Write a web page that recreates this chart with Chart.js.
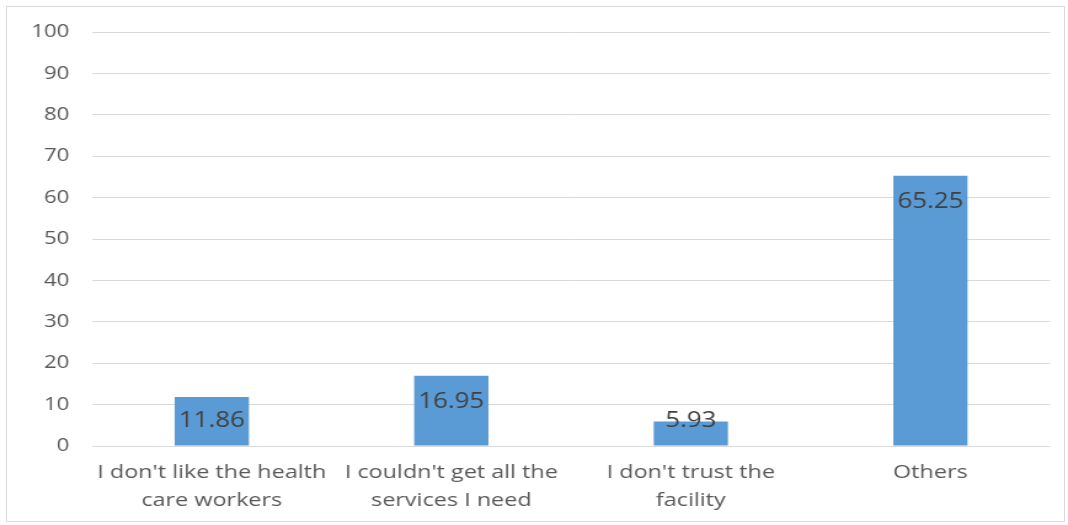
<!DOCTYPE html>
<html>
<head>
<meta charset="utf-8">
<script src="https://cdn.jsdelivr.net/npm/chart.js@4"></script>
<style>
  html, body { margin: 0; padding: 0; background: #fff; overflow: hidden; }
  #wrap { position: relative; width: 1068px; height: 525px; }
  /* the source picture is stretched sideways, so the canvas is too */
  #stretch { position: absolute; left: 0; top: 0; width: 868px; height: 525px; transform: scaleX(1.2304); transform-origin: 0 0; }
  #frame { position: absolute; left: 6px; top: 6px; width: 1059px; height: 516px; border: 1px solid #d9d9d9; box-sizing: border-box; pointer-events: none; }
</style>
</head>
<body>
<div id="wrap">
  <div id="stretch"><canvas id="chart0" width="868" height="525"></canvas></div>
  <div id="frame"></div>
</div>
<script>
const categories = [
  ["I don't like the health", "care workers"],
  ["I couldn't get all the", "services I need"],
  ["I don't trust the", "facility"],
  "Others"
];
const values = [11.86, 16.95, 5.93, 65.25];
const y_ticks = [0, 10, 20, 30, 40, 50, 60, 70, 80, 90, 100];

const font_family = "'Open Sans', 'DejaVu Sans', sans-serif";

// labels drawn inside the top of each bar, like excel "inside end"
const bar_labels = {
  id: "bar_labels",
  afterDatasetsDraw(chart) {
    const ctx = chart.ctx;
    const meta = chart.getDatasetMeta(0);
    ctx.save();
    ctx.font = "21px " + font_family;
    ctx.fillStyle = "#404040";
    ctx.textAlign = "center";
    ctx.textBaseline = "middle";
    meta.data.forEach((bar, i) => {
      const y = Math.min(bar.y + 26.5, bar.base - 24);
      ctx.fillText(values[i].toFixed(2), bar.x, y);
    });
    ctx.restore();
  }
};

const ctx = document.getElementById("chart0");
new Chart(ctx, {
  type: "bar",
  data: {
    labels: categories,
    datasets: [{
      data: values,
      backgroundColor: "#5b9bd5",
      borderWidth: 0,
      categoryPercentage: 1,
      barPercentage: 0.31
    }]
  },
  options: {
    responsive: false,
    animation: false,
    layout: { padding: { top: 32, right: 14.5, bottom: 0, left: 0 } },
    plugins: { legend: { display: false }, tooltip: { enabled: false } },
    scales: {
      x: {
        afterFit: (scale) => { scale.height = 79; },
        grid: { display: false, drawTicks: false },
        border: { display: false },
        ticks: {
          color: "#595959",
          padding: 13,
          maxRotation: 0,
          autoSkip: false,
          font: { family: font_family, size: 19, lineHeight: 1.47 }
        }
      },
      y: {
        min: 0,
        max: 100,
        afterFit: (scale) => { scale.width = 74.8; },
        afterBuildTicks: (scale) => { scale.ticks = y_ticks.map((v) => ({ value: v })); },
        grid: { color: "#d9d9d9", drawTicks: false },
        border: { display: false },
        ticks: {
          color: "#595959",
          padding: 18.5,
          font: { family: font_family, size: 18 }
        }
      }
    }
  },
  plugins: [bar_labels]
});
</script>
</body>
</html>
